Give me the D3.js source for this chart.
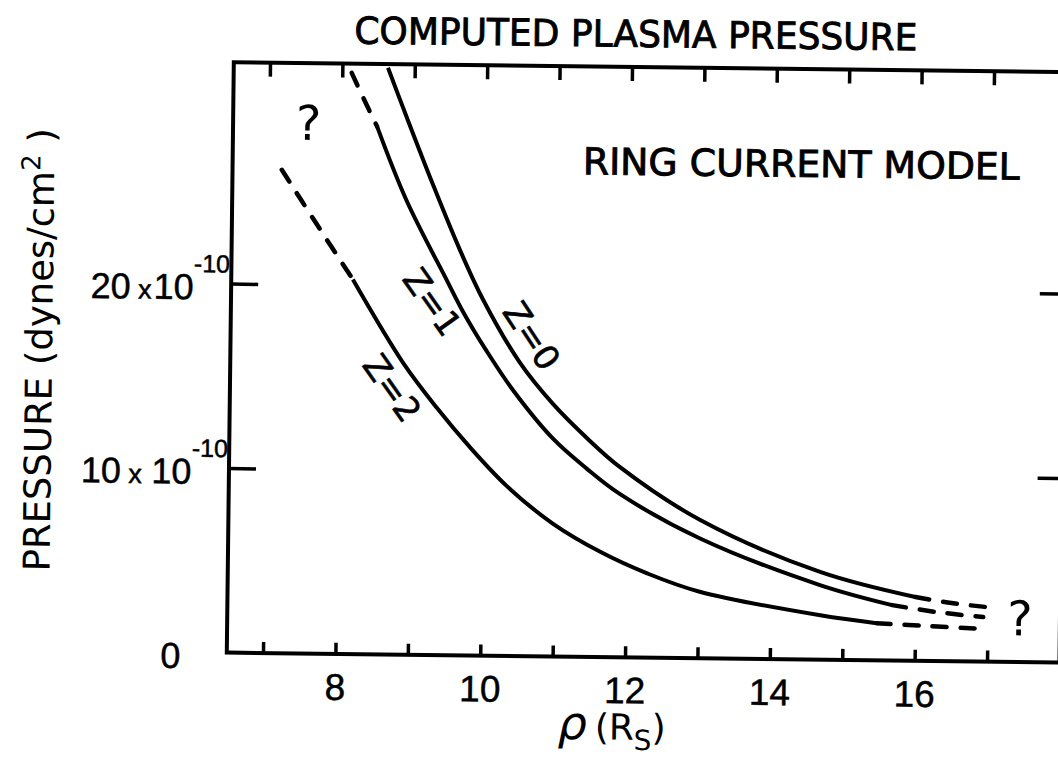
<!DOCTYPE html>
<html>
<head>
<meta charset="utf-8">
<script src="https://cdn.jsdelivr.net/npm/d3@7"></script>
<style>
  body { margin: 0; background: #fff; }
  svg { display: block; }
  text { font-family: "DejaVu Sans", sans-serif; fill: #000; }
  .num { font-family: "Liberation Sans", sans-serif; }
</style>
</head>
<body>
<div id="chart"></div>
<script>
const width = 1058;
const height = 773;

// rho (R_S) vs pressure (units of 1e-10 dynes/cm^2)
const z0Solid = [[8.63, 31.8], [8.90, 29.1], [9.27, 25.5], [9.65, 22.0], [9.98, 19.3], [10.50, 15.9],
  [10.96, 13.7], [11.44, 11.85], [11.90, 10.3], [13.01, 7.5], [14.68, 4.75], [16.0, 3.45]];
const z0Dashed = [[16.0, 3.45], [16.5, 3.15], [17.0, 2.95]];

const z1DashedHead = [[8.13, 31.5], [8.30, 30.1], [8.49, 28.6]];
const z1Solid = [[8.49, 28.6], [8.91, 24.6], [9.48, 20.3], [9.71, 18.6], [10.04, 16.5], [10.41, 14.4],
  [10.97, 11.8], [11.44, 10.2], [11.90, 8.85], [13.01, 6.5], [14.68, 4.04], [15.68, 3.0]];
const z1Dashed = [[15.68, 3.0], [16.3, 2.65], [16.94, 2.41]];

const z2DashedHead = [[7.18, 26.2], [7.65, 23.4], [8.18, 20.3]];
const z2Solid = [[8.18, 20.3], [8.89, 15.8], [9.36, 13.4], [9.82, 11.3], [10.34, 9.2], [10.98, 7.2],
  [11.64, 5.7], [12.3, 4.55], [13.02, 3.6], [14.69, 2.4], [15.47, 2.01]];
const z2Dashed = [[15.47, 2.01], [16.2, 1.88], [17.0, 1.76]];

const xTicks = [7, 8, 9, 10, 11, 12, 13, 14, 15, 16, 17];
const xTickLabels = [8, 10, 12, 14, 16];
const yTicks = [10, 20];
const yTickLabels = [{v: 0, main: "0"}, {v: 10, main: "10", sep: " x ", exp: "-10"}, {v: 20, main: "20", sep: " x", exp: "-10"}];

const curveLabels = [
  {text: "Z=0", rho: 10.66, p: 17.36, angle: 56},
  {text: "Z=1", rho: 9.28, p: 19.13, angle: 54},
  {text: "Z=2", rho: 8.74, p: 14.44, angle: 54}
];

const x = d3.scaleLinear().domain([6.5, 18]).range([230.3, 1063]);
const y = d3.scaleLinear().domain([0, 32]).range([657.5, 67.1]);

const svg = d3.select("#chart")
  .append("svg")
  .attr("width", width)
  .attr("height", height);

// the scanned figure is tilted a little clockwise
const g = svg.append("g").attr("transform", "rotate(0.68, 645, 360)");

// frame
g.append("rect")
  .attr("x", x(6.5))
  .attr("y", y(32))
  .attr("width", x(18) - x(6.5))
  .attr("height", y(0) - y(32))
  .attr("fill", "none")
  .attr("stroke", "#000")
  .attr("stroke-width", 4);

function styleAxis(sel) {
  sel.select(".domain").remove();
  sel.selectAll(".tick line").attr("stroke", "#000").attr("stroke-width", 3.5);
  sel.selectAll(".tick text").remove();
}

g.append("g")
  .attr("transform", `translate(0,${y(0)})`)
  .call(d3.axisBottom(x).tickValues(xTicks).tickSize(-11).tickFormat(""))
  .call(styleAxis);

g.append("g")
  .attr("transform", `translate(0,${y(32)})`)
  .call(d3.axisTop(x).tickValues(xTicks).tickSize(-14).tickFormat(""))
  .call(styleAxis);

g.append("g")
  .attr("transform", `translate(${x(6.5)},0)`)
  .call(d3.axisLeft(y).tickValues(yTicks).tickSize(-27).tickFormat(""))
  .call(styleAxis);

g.append("g")
  .attr("transform", `translate(${x(18)},0)`)
  .call(d3.axisRight(y).tickValues(yTicks).tickSize(-24).tickFormat(""))
  .call(styleAxis);

// x tick labels
g.append("g")
  .selectAll("text")
  .data(xTickLabels)
  .enter()
  .append("text")
  .attr("class", "num")
  .attr("x", d => x(d))
  .attr("y", y(0) + 46)
  .attr("text-anchor", "middle")
  .style("font-size", "37px")
  .style("stroke", "#000")
  .style("stroke-width", 0.5)
  .text(d => d);

// y tick labels
const yl = g.append("g")
  .selectAll("text")
  .data(yTickLabels)
  .enter()
  .append("text")
  .attr("class", "num")
  .attr("x", d => d.exp ? 229 : 184)
  .attr("y", d => y(d.v) + 16)
  .attr("text-anchor", "end")
  .style("font-size", "36px")
  .style("stroke", "#000")
  .style("stroke-width", 0.5);

yl.append("tspan").text(d => d.main);
yl.filter(d => d.exp).append("tspan").style("font-size", "27px").text(d => d.sep);
yl.filter(d => d.exp).append("tspan").attr("dx", 2).text("10");
yl.filter(d => d.exp).append("tspan").style("font-size", "25px").attr("dy", -27).text(d => d.exp);

// curves
const line = d3.line()
  .x(d => x(d[0]))
  .y(d => y(d[1]))
  .curve(d3.curveCatmullRom.alpha(0.5));

const solids = [z0Solid, z1Solid, z2Solid];
const dashes = [z0Dashed, z1Dashed, z2Dashed, z1DashedHead, z2DashedHead];

g.append("g")
  .selectAll("path")
  .data(solids)
  .enter()
  .append("path")
  .attr("d", line)
  .attr("fill", "none")
  .attr("stroke", "#000")
  .attr("stroke-width", 4);

g.append("g")
  .selectAll("path")
  .data(dashes)
  .enter()
  .append("path")
  .attr("d", line)
  .attr("fill", "none")
  .attr("stroke", "#000")
  .attr("stroke-width", 4.5)
  .attr("stroke-linecap", "round")
  .attr("stroke-dasharray", "14,14");

// curve labels
g.append("g")
  .selectAll("text")
  .data(curveLabels)
  .enter()
  .append("text")
  .attr("transform", d => `translate(${x(d.rho)},${y(d.p)}) rotate(${d.angle})`)
  .attr("text-anchor", "middle")
  .attr("dominant-baseline", "central")
  .style("font-size", "34px")
  .style("stroke", "#000")
  .style("stroke-width", 0.6)
  .text(d => d.text);

// titles and annotations
g.append("text")
  .attr("x", 632)
  .attr("y", 47)
  .attr("text-anchor", "middle")
  .attr("textLength", 563)
  .attr("lengthAdjust", "spacingAndGlyphs")
  .style("font-size", "37px")
  .style("stroke", "#000")
  .style("stroke-width", 0.9)
  .text("COMPUTED PLASMA PRESSURE");

g.append("text")
  .attr("x", 799)
  .attr("y", 175)
  .attr("text-anchor", "middle")
  .attr("textLength", 437)
  .attr("lengthAdjust", "spacingAndGlyphs")
  .style("font-size", "37px")
  .style("stroke", "#000")
  .style("stroke-width", 0.9)
  .text("RING CURRENT MODEL");

g.append("text")
  .attr("x", 306)
  .attr("y", 144)
  .attr("text-anchor", "middle")
  .style("font-size", "48px")
  .text("?");

g.append("text")
  .attr("x", 1023)
  .attr("y", 631)
  .attr("text-anchor", "middle")
  .style("font-size", "48px")
  .text("?");

// axis titles
const xt = g.append("text")
  .attr("x", 616)
  .attr("y", 740)
  .attr("text-anchor", "middle")
  .style("font-size", "36px");
xt.append("tspan").style("font-style", "italic").style("font-size", "46px").text("ρ");
xt.append("tspan").attr("dx", 8).text("(R");
xt.append("tspan").attr("dy", 10).style("font-size", "28px").text("S");
xt.append("tspan").attr("dy", -10).text(")");

const yt = g.append("text")
  .attr("transform", "translate(52,357) rotate(-90)")
  .attr("text-anchor", "middle")
  .style("font-size", "37px");
yt.append("tspan").text("PRESSURE (dynes/cm");
yt.append("tspan").attr("dy", -14).style("font-size", "26px").text("2");
yt.append("tspan").attr("dy", 14).text(" )");
</script>
</body>
</html>
